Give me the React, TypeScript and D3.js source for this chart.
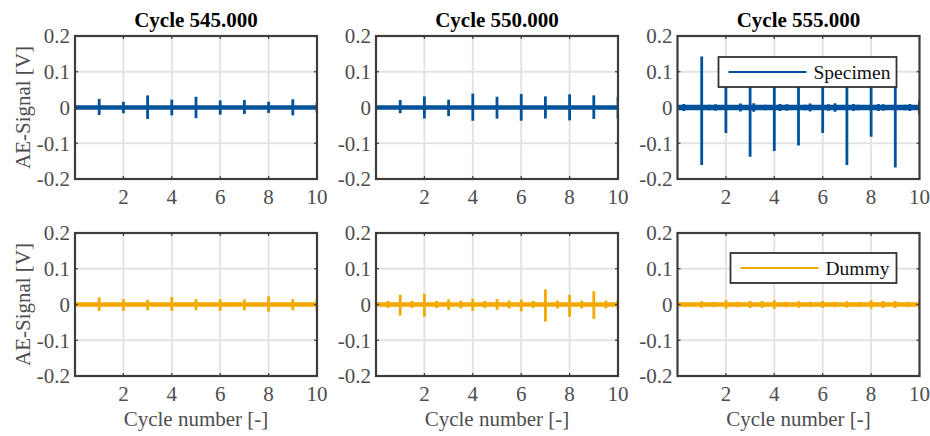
import * as d3 from "d3";

// plot layout (page coordinates)
const COL_LEFT = [75, 376, 677.5];
const ROW_TOP = [36, 233];
const PLOT_W = 242;
const PLOT_H = 143;

const FONT = "'Liberation Serif', 'Times New Roman', serif";
const BLUE = "#00529c";
const ORANGE = "#f3a900";
const FRAME = "#3c3c3c";
const LABEL = "#4d4d4d";

const titles = ["Cycle 545.000", "Cycle 550.000", "Cycle 555.000"];
const cycleTicks = [2, 4, 6, 8, 10];
const signalTicks = [-0.2, -0.1, 0, 0.1, 0.2];
const signalTickLabels = ["-0.2", "-0.1", "0", "0.1", "0.2"];
const yLabel = "AE-Signal [V]";
const xLabel = "Cycle number [-]";

// specimen, cycle 545.000
const spec545Pos = [1, 2, 3, 4, 5, 6, 7, 8, 9, 10];
const spec545Hi = [0.024, 0.016, 0.034, 0.022, 0.03, 0.02, 0.021, 0.016, 0.023, 0.014];
const spec545Lo = [-0.021, -0.016, -0.032, -0.022, -0.03, -0.02, -0.018, -0.015, -0.022, -0.014];

// specimen, cycle 550.000
const spec550Pos = [1, 2, 3, 4, 5, 6, 7, 8, 9, 10];
const spec550Hi = [0.021, 0.031, 0.022, 0.039, 0.03, 0.038, 0.031, 0.037, 0.034, 0.03];
const spec550Lo = [-0.016, -0.031, -0.024, -0.037, -0.031, -0.037, -0.031, -0.036, -0.032, -0.031];

// specimen, cycle 555.000 (big bursts + small ones in between)
const spec555Pos = [1, 2, 3, 4, 5, 6, 7, 8, 9, 10];
const spec555Hi = [0.143, 0.09, 0.1, 0.09, 0.08, 0.085, 0.1, 0.09, 0.1, 0.02];
const spec555Lo = [-0.161, -0.071, -0.138, -0.122, -0.106, -0.071, -0.161, -0.082, -0.168, -0.02];
const spec555MinorPos = [0.26, 1.32, 1.57, 2.6, 3.15, 3.63, 4.24, 4.52, 5.27, 5.48, 6.24, 6.51, 7.27, 7.47, 8.3, 8.5, 9.4, 9.6];
const spec555MinorAmp = [0.01, 0.008, 0.009, 0.011, 0.012, 0.008, 0.01, 0.009, 0.008, 0.011, 0.009, 0.012, 0.01, 0.008, 0.01, 0.009, 0.008, 0.01];

// dummy, cycle 545.000
const dum545Pos = [1, 2, 3, 4, 5, 6, 6.5, 7, 8, 9, 9.5, 10];
const dum545Hi = [0.02, 0.015, 0.013, 0.021, 0.015, 0.015, 0.006, 0.014, 0.023, 0.015, 0.006, 0.015];
const dum545Lo = [-0.018, -0.018, -0.016, -0.018, -0.016, -0.018, -0.006, -0.016, -0.02, -0.016, -0.006, -0.018];

// dummy, cycle 550.000
const dum550Pos = [0.5, 1, 1.5, 2, 2.5, 3, 3.5, 4, 4.5, 5, 5.5, 6, 6.5, 7, 7.5, 8, 8.5, 9, 9.5, 10];
const dum550Hi = [0.01, 0.027, 0.01, 0.03, 0.01, 0.014, 0.011, 0.016, 0.01, 0.015, 0.011, 0.014, 0.01, 0.042, 0.011, 0.027, 0.011, 0.037, 0.011, 0.014];
const dum550Lo = [-0.01, -0.031, -0.01, -0.034, -0.01, -0.015, -0.011, -0.018, -0.01, -0.015, -0.011, -0.019, -0.01, -0.048, -0.011, -0.034, -0.011, -0.04, -0.011, -0.015];

// dummy, cycle 555.000
const dum555Pos = [0.33, 1, 1.5, 2, 2.5, 3, 3.5, 4, 4.5, 5, 5.5, 6, 6.5, 7, 7.5, 8, 8.5, 9, 9.5, 10];
const dum555Amp = [0.006, 0.009, 0.008, 0.012, 0.008, 0.01, 0.01, 0.012, 0.008, 0.009, 0.008, 0.01, 0.008, 0.009, 0.008, 0.012, 0.01, 0.01, 0.008, 0.012];

const noiseLevel = [0.003, 0.003, 0.004, 0.003, 0.003, 0.003];

type Burst = { x: number; hi: number; lo: number };

const toBursts = (pos: number[], hi: number[], lo: number[]): Burst[] =>
  pos.map((x, i) => ({ x, hi: hi[i], lo: lo[i] }));
const toSymmetric = (pos: number[], amp: number[]): Burst[] =>
  pos.map((x, i) => ({ x, hi: amp[i], lo: -amp[i] }));

type LegendSpec = { label: string; width: number; top: number };

type PanelProps = {
  id: string;
  left: number;
  top: number;
  title?: string;
  color: string;
  bursts: Burst[];
  noise: number;
  showYLabel: boolean;
  showXLabel: boolean;
  legend?: LegendSpec;
};

const Panel = ({ id, left, top, title, color, bursts, noise, showYLabel, showXLabel, legend }: PanelProps) => {
  const xScale = d3.scaleLinear().domain([0, 10]).range([0, PLOT_W]);
  const yScale = d3.scaleLinear().domain([-0.2, 0.2]).range([PLOT_H, 0]);

  const band = d3
    .area<number>()
    .x((d) => xScale(d))
    .y0(yScale(-noise))
    .y1(yScale(noise))([0, 10]);

  const gridX = cycleTicks.filter((t) => t < 10);
  const gridY = signalTicks.filter((t) => Math.abs(t) < 0.2);

  return (
    <g transform={`translate(${left},${top})`}>
      <defs>
        <clipPath id={`clip-${id}`}>
          <rect x={0} y={0} width={PLOT_W} height={PLOT_H} />
        </clipPath>
      </defs>
      <rect x={0} y={0} width={PLOT_W} height={PLOT_H} fill="white" />
      {gridX.map((t) => (
        <line key={"gx" + t} x1={xScale(t)} x2={xScale(t)} y1={0} y2={PLOT_H} stroke="#e3e3e3" strokeWidth={2} />
      ))}
      {gridY.map((t) => (
        <line key={"gy" + t} x1={0} x2={PLOT_W} y1={yScale(t)} y2={yScale(t)} stroke="#e3e3e3" strokeWidth={2} />
      ))}
      <g clipPath={`url(#clip-${id})`}>
        <path d={band!} fill={color} stroke={color} strokeWidth={2.6} />
        {bursts.map((b, i) => (
          <line
            key={i}
            x1={xScale(b.x)}
            x2={xScale(b.x)}
            y1={yScale(b.hi)}
            y2={yScale(b.lo)}
            stroke={color}
            strokeWidth={2.8}
          />
        ))}
      </g>
      <rect x={0} y={0} width={PLOT_W} height={PLOT_H} fill="none" stroke={FRAME} strokeWidth={2.2} />
      {cycleTicks.map((t) => (
        <g key={"tx" + t}>
          <line x1={xScale(t)} x2={xScale(t)} y1={PLOT_H} y2={PLOT_H - 3} stroke={FRAME} strokeWidth={1.2} />
          <line x1={xScale(t)} x2={xScale(t)} y1={0} y2={3} stroke={FRAME} strokeWidth={1.2} />
          <text x={xScale(t)} y={PLOT_H + 25} textAnchor="middle" fontSize={21} fill={LABEL}>
            {t}
          </text>
        </g>
      ))}
      {signalTicks.map((t, i) => (
        <g key={"ty" + t}>
          <line x1={0} x2={3} y1={yScale(t)} y2={yScale(t)} stroke={FRAME} strokeWidth={1.2} />
          <line x1={PLOT_W} x2={PLOT_W - 3} y1={yScale(t)} y2={yScale(t)} stroke={FRAME} strokeWidth={1.2} />
          <text x={-5} y={yScale(t)} dy="0.35em" textAnchor="end" fontSize={21} fill={LABEL}>
            {signalTickLabels[i]}
          </text>
        </g>
      ))}
      {title && (
        <text x={PLOT_W / 2} y={-9} textAnchor="middle" fontSize={21} fontWeight="bold" fill="#000">
          {title}
        </text>
      )}
      {showYLabel && (
        <text
          transform={`translate(${23 - left},${PLOT_H / 2}) rotate(-90)`}
          dy="0.35em"
          textAnchor="middle"
          fontSize={21}
          fill={LABEL}
        >
          {yLabel}
        </text>
      )}
      {showXLabel && (
        <text x={PLOT_W / 2} y={PLOT_H + 50} textAnchor="middle" fontSize={21} fill={LABEL}>
          {xLabel}
        </text>
      )}
      {legend && (
        <g transform={`translate(${PLOT_W - 23 - legend.width},${legend.top})`}>
          <rect x={0} y={0} width={legend.width} height={30} fill="white" stroke="#333" strokeWidth={1.8} />
          <line x1={10} x2={88} y1={15} y2={15} stroke={color} strokeWidth={2.2} />
          <text x={95} y={15} dy="0.35em" fontSize={19.5} fill="#111">
            {legend.label}
          </text>
        </g>
      )}
    </g>
  );
};

const App = () => {
  const specimen = [
    toBursts(spec545Pos, spec545Hi, spec545Lo),
    toBursts(spec550Pos, spec550Hi, spec550Lo),
    [...toBursts(spec555Pos, spec555Hi, spec555Lo), ...toSymmetric(spec555MinorPos, spec555MinorAmp)],
  ];
  const dummy = [
    toBursts(dum545Pos, dum545Hi, dum545Lo),
    toBursts(dum550Pos, dum550Hi, dum550Lo),
    toSymmetric(dum555Pos, dum555Amp),
  ];

  return (
    <svg
      width={930}
      height={436}
      style={{ position: "absolute", left: 0, top: 0, background: "white" }}
      fontFamily={FONT}
    >
      {specimen.map((b, i) => (
        <Panel
          key={"s" + i}
          id={"s" + i}
          left={COL_LEFT[i]}
          top={ROW_TOP[0]}
          title={titles[i]}
          color={BLUE}
          bursts={b}
          noise={noiseLevel[i]}
          showYLabel={i === 0}
          showXLabel={false}
          legend={i === 2 ? { label: "Specimen", width: 178, top: 21 } : undefined}
        />
      ))}
      {dummy.map((b, i) => (
        <Panel
          key={"d" + i}
          id={"d" + i}
          left={COL_LEFT[i]}
          top={ROW_TOP[1]}
          color={ORANGE}
          bursts={b}
          noise={noiseLevel[3 + i]}
          showYLabel={i === 0}
          showXLabel={true}
          legend={i === 2 ? { label: "Dummy", width: 166, top: 20 } : undefined}
        />
      ))}
    </svg>
  );
};

export default App;
